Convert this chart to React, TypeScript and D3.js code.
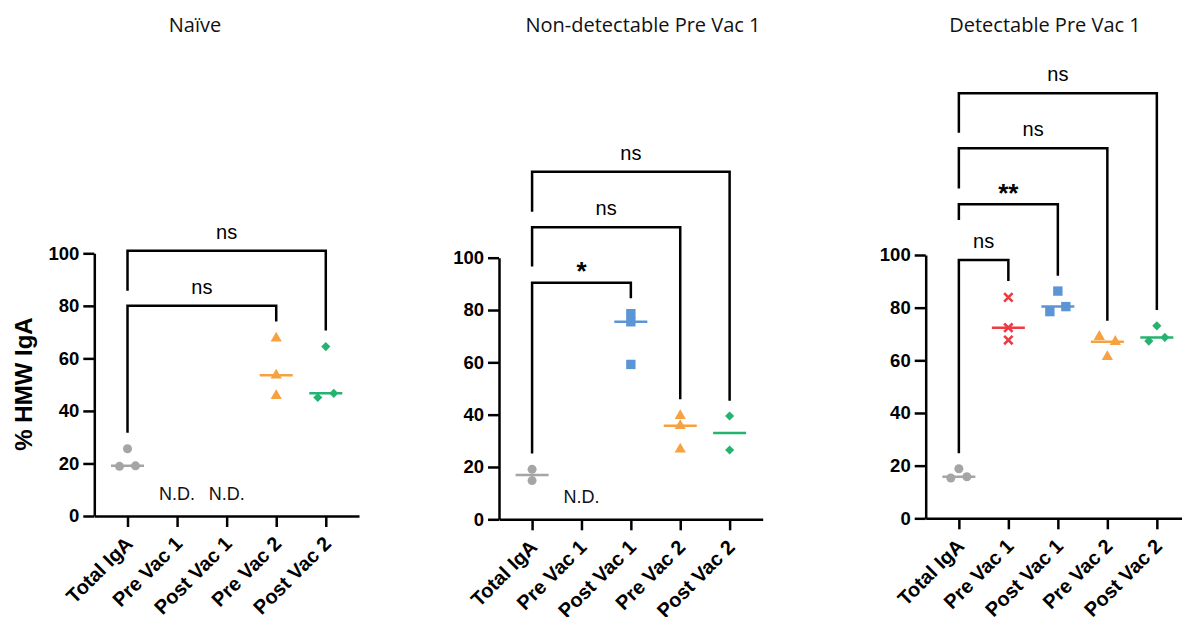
import React, { useEffect, useRef } from "react";
import * as d3 from "d3";

const categories = ["Total IgA", "Pre Vac 1", "Post Vac 1", "Pre Vac 2", "Post Vac 2"];
const yTicks = [0, 20, 40, 60, 80, 100];
const panelTitles = ["Naïve", "Non-detectable Pre Vac 1", "Detectable Pre Vac 1"];

// % HMW IgA per group, null = not detected (N.D.)
const naiveValues = [[25.6, 18.9, 19.1], null, null, [67.7, 53.6, 45.8], [64.5, 45.1, 46.7]];
const nonDetectableValues = [[19.1, 14.8], null, [78.6, 75.5, 59.2], [39.6, 35.8, 26.8], [39.5, 26.5]];
const detectableValues = [[18.8, 15.3, 15.8], [83.9, 72.4, 67.7], [86.3, 78.5, 80.4], [69.0, 67.1, 61.4], [73.1, 67.3, 68.7]];

// comparisons vs Total IgA: [group, bracket level, left leg end, right leg end, label]
const naiveBrackets = [
  [3, 80, 31.7, 74, "ns"],
  [4, 101, 85.7, 70.6, "ns"],
];
const nonDetectableBrackets = [
  [2, 90.4, 25.2, 84.5, "*"],
  [3, 111.6, 96.6, 45.9, "ns"],
  [4, 132.9, 117.6, 45.3, "ns"],
];
const detectableBrackets = [
  [1, 98.1, 24.7, 90.1, "ns"],
  [2, 119.3, 113.3, 92.1, "**"],
  [3, 140.5, 125.3, 75, "ns"],
  [4, 161.4, 146.4, 79.1, "ns"],
];

const colors = ["#a5a5a5", "#ee3b43", "#5b95d5", "#f8a140", "#25b370"];
const shapes = ["circle", "times", "square", "triangle", "diamond"];

const W = 1182;
const H = 617;
const FONT = "'Liberation Sans', Arial, sans-serif";

const panels = [
  { title: panelTitles[0], values: naiveValues, brackets: naiveBrackets, left: 94.3, right: 359, y0: 516, y100: 253.3, titleX: 195 },
  { title: panelTitles[1], values: nonDetectableValues, brackets: nonDetectableBrackets, left: 499, right: 762.7, y0: 519.3, y100: 257.7, titleX: 643 },
  { title: panelTitles[2], values: detectableValues, brackets: detectableBrackets, left: 925.7, right: 1190, y0: 518.3, y100: 255, titleX: 1045 },
];

// spread points that sit at about the same height (prism-like scatter)
function scatterOffsets(vals) {
  const sorted = vals.map((v, i) => ({ v, i })).sort((a, b) => a.v - b.v);
  const rows = [];
  sorted.forEach((p) => {
    const row = rows[rows.length - 1];
    if (row && p.v - row[0].v <= 2) row.push(p);
    else rows.push([p]);
  });
  const off = new Array(vals.length).fill(0);
  rows.forEach((row) => {
    row.sort((a, b) => a.i - b.i);
    row.forEach((p, k) => (off[p.i] = (k - (row.length - 1) / 2) * 16));
  });
  return off;
}

function drawPanel(svg, p) {
  const x = d3.scalePoint().domain(categories).range([p.left, p.right]).padding(0.67);
  const y = d3.scaleLinear().domain([0, 100]).range([p.y0, p.y100]);
  const g = svg.append("g");

  g.append("text")
    .attr("x", p.titleX)
    .attr("y", 31.5)
    .attr("text-anchor", "middle")
    .attr("font-family", "'Open Sans', sans-serif")
    .attr("font-size", 20)
    .attr("fill", "#111")
    .text(p.title);

  const yAxis = g
    .append("g")
    .attr("transform", `translate(${p.left},0)`)
    .call(d3.axisLeft(y).tickValues(yTicks).tickSize(11).tickPadding(4).tickSizeOuter(0));
  const xAxis = g
    .append("g")
    .attr("transform", `translate(0,${p.y0})`)
    .call(d3.axisBottom(x).tickSize(11).tickSizeOuter(0));

  [yAxis, xAxis].forEach((a) => {
    a.selectAll("path, line").attr("stroke", "#000").attr("stroke-width", 2.5);
    a.selectAll("text")
      .attr("font-family", FONT)
      .attr("font-size", 18.5)
      .attr("font-weight", "bold")
      .attr("fill", "#000");
  });
  xAxis
    .selectAll("text")
    .attr("x", null)
    .attr("y", null)
    .attr("dy", null)
    .attr("font-size", 20)
    .attr("text-anchor", "end")
    .attr("transform", "translate(6,29) rotate(-45)");

  p.values.forEach((vals, gi) => {
    const cx = x(categories[gi]);
    if (!vals) {
      g.append("text")
        .attr("x", cx)
        .attr("y", p.y0 - 16)
        .attr("text-anchor", "middle")
        .attr("font-family", FONT)
        .attr("font-size", 18)
        .attr("fill", "#111")
        .text("N.D.");
      return;
    }
    const col = colors[gi];
    const med = d3.median(vals);
    g.append("line")
      .attr("x1", cx - 16.5)
      .attr("x2", cx + 16.5)
      .attr("y1", y(med))
      .attr("y2", y(med))
      .attr("stroke", col)
      .attr("stroke-width", 2.5);

    const offs = scatterOffsets(vals);
    vals.forEach((v, k) => {
      const px = cx + offs[k];
      const py = y(v);
      const shape = shapes[gi];
      let sym;
      let rot = 0;
      if (shape === "circle") sym = d3.symbol(d3.symbolCircle, 64);
      else if (shape === "square") sym = d3.symbol(d3.symbolSquare, 88);
      else if (shape === "triangle") sym = d3.symbol(d3.symbolTriangle, 55);
      else if (shape === "diamond") { sym = d3.symbol(d3.symbolSquare, 42); rot = 45; }
      else sym = d3.symbol(d3.symbolTimes, 48);
      const path = g
        .append("path")
        .attr("d", sym())
        .attr("transform", `translate(${px},${py}) rotate(${rot})`);
      if (shape === "times") path.attr("fill", "none").attr("stroke", col).attr("stroke-width", 2.6);
      else path.attr("fill", col);
    });
  });

  p.brackets.forEach(([gi, level, leftEnd, rightEnd, label]) => {
    const xl = x(categories[0]);
    const xr = x(categories[gi]);
    g.append("path")
      .attr("d", `M${xl},${y(leftEnd)}V${y(level)}H${xr}V${y(rightEnd)}`)
      .attr("fill", "none")
      .attr("stroke", "#000")
      .attr("stroke-width", 2.5);
    const star = label.indexOf("*") >= 0;
    g.append("text")
      .attr("x", (xl + xr) / 2)
      .attr("y", y(level) - (star ? 2.5 : 12))
      .attr("text-anchor", "middle")
      .attr("font-family", FONT)
      .attr("font-size", star ? 26 : 20)
      .attr("font-weight", star ? "bold" : "normal")
      .attr("fill", "#000")
      .text(label);
  });
}

export default function App() {
  const ref = useRef(null);

  useEffect(() => {
    const svg = d3.select(ref.current);
    svg.selectAll("*").remove();
    panels.forEach((p) => drawPanel(svg, p));

    svg
      .append("text")
      .attr("transform", "translate(32,384) rotate(-90)")
      .attr("text-anchor", "middle")
      .attr("font-family", FONT)
      .attr("font-size", 24)
      .attr("font-weight", "bold")
      .attr("fill", "#000")
      .text("% HMW IgA");
  }, []);

  return (
    <svg
      ref={ref}
      width={W}
      height={H}
      style={{ position: "absolute", left: 0, top: 0, background: "#fff" }}
    />
  );
}
